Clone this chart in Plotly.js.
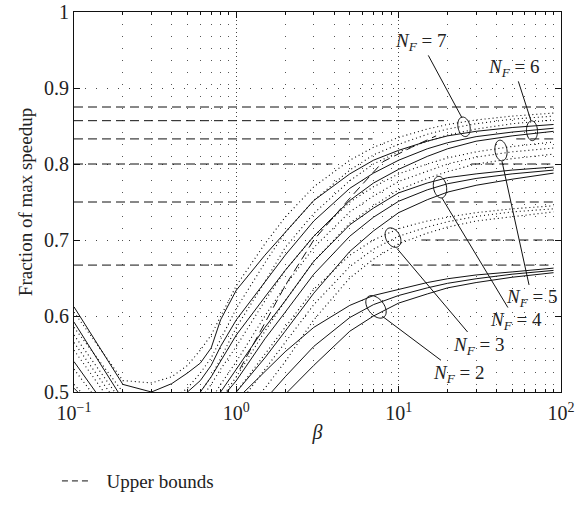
<!DOCTYPE html>
<html><head><meta charset="utf-8">
<script src="https://cdn.plot.ly/plotly-3.0.1.min.js"></script>
<style>html,body{margin:0;padding:0;background:#fff}#chart{width:578px;height:512px}</style>
</head><body><div id="chart"></div>
<script>
// ---- data ----
const beta = [0.1,0.2,0.3,0.4,0.5,0.6,0.7,0.8,1,1.5,2,3,5,7,10,15,20,30,50,90];
// N_F = 6 (solid)
const nf6_1 = [0.612,0.510,0.500,0.511,0.525,0.538,0.558,0.595,0.634,0.680,0.710,0.752,0.787,0.805,0.818,0.830,0.837,0.843,0.848,0.852];
const nf6_2 = [0.592,0.490,0.470,0.475,0.500,0.515,0.535,0.560,0.595,0.645,0.680,0.725,0.768,0.788,0.805,0.820,0.828,0.836,0.842,0.847];
const nf6_3 = [0.540,0.450,0.440,0.450,0.470,0.500,0.520,0.540,0.575,0.625,0.660,0.705,0.752,0.775,0.793,0.810,0.820,0.830,0.837,0.843];
// N_F = 4 (solid)
const nf4_1 = [0.505,0.440,0.420,0.420,0.430,0.450,0.475,0.500,0.530,0.585,0.620,0.672,0.720,0.742,0.762,0.775,0.782,0.787,0.792,0.796];
const nf4_2 = [0.470,0.420,0.400,0.400,0.410,0.430,0.455,0.490,0.515,0.570,0.605,0.655,0.705,0.730,0.751,0.766,0.774,0.781,0.787,0.792];
const nf4_3 = [0.450,0.400,0.380,0.380,0.390,0.410,0.435,0.465,0.500,0.545,0.580,0.630,0.685,0.712,0.736,0.753,0.763,0.772,0.780,0.788];
// N_F = 2 (solid)
const nf2_1 = [0.440,0.400,0.380,0.380,0.385,0.400,0.420,0.450,0.490,0.527,0.553,0.585,0.614,0.627,0.635,0.644,0.649,0.654,0.658,0.663];
const nf2_2 = [0.420,0.380,0.360,0.360,0.365,0.380,0.400,0.425,0.460,0.490,0.520,0.560,0.598,0.615,0.627,0.637,0.643,0.649,0.655,0.660];
const nf2_3 = [0.400,0.360,0.340,0.340,0.345,0.360,0.380,0.400,0.430,0.465,0.497,0.535,0.580,0.600,0.617,0.629,0.637,0.644,0.651,0.657];
// N_F = 7 (dotted)
const nf7_1 = [0.605,0.515,0.512,0.520,0.535,0.555,0.575,0.600,0.640,0.695,0.730,0.770,0.805,0.822,0.835,0.846,0.852,0.858,0.863,0.867];
const nf7_2 = [0.585,0.500,0.485,0.490,0.505,0.525,0.545,0.570,0.610,0.670,0.710,0.752,0.792,0.812,0.826,0.839,0.846,0.853,0.859,0.863];
const nf7_3 = [0.565,0.475,0.460,0.465,0.480,0.500,0.520,0.545,0.585,0.645,0.690,0.735,0.778,0.800,0.816,0.830,0.838,0.846,0.853,0.858];
// N_F = 5 (dotted)
const nf5_1 = [0.575,0.485,0.470,0.470,0.480,0.490,0.510,0.530,0.560,0.620,0.660,0.705,0.750,0.770,0.787,0.800,0.808,0.816,0.823,0.829];
const nf5_2 = [0.555,0.465,0.450,0.450,0.460,0.470,0.490,0.510,0.540,0.600,0.640,0.690,0.737,0.758,0.777,0.791,0.800,0.809,0.816,0.821];
const nf5_3 = [0.530,0.445,0.430,0.430,0.440,0.450,0.470,0.490,0.520,0.580,0.620,0.672,0.722,0.745,0.766,0.781,0.790,0.800,0.807,0.813];
// N_F = 3 (dotted)
const nf3_1 = [0.510,0.440,0.420,0.420,0.425,0.435,0.450,0.470,0.500,0.550,0.585,0.635,0.680,0.700,0.715,0.725,0.730,0.736,0.741,0.745];
const nf3_2 = [0.490,0.420,0.400,0.400,0.405,0.415,0.430,0.450,0.480,0.530,0.565,0.615,0.665,0.688,0.705,0.717,0.724,0.731,0.737,0.741];
const nf3_3 = [0.470,0.400,0.380,0.380,0.385,0.395,0.410,0.430,0.465,0.505,0.540,0.595,0.650,0.675,0.695,0.709,0.717,0.725,0.731,0.737];
// Upper bounds (horizontal visible pieces)
const boundLevel = [0.875,0.857,0.833,0.833,0.800,0.800,0.750,0.750,0.700,0.667,0.667];
const boundFrom  = [0.1,  0.1,  0.1,  53,   0.1,  28,   0.1,  16,   13.8, 0.1,  6.8];
const boundTo    = [90,   19,   6.9,  90,   3.9,  90,   2.2,  90,   90,   0.95, 90];
// Upper bound (rising dashed piece)
const boundCurveBeta = [1.05,1.4,2,3,5,8,12,17];
const boundCurveVal  = [0.53,0.58,0.64,0.70,0.755,0.803,0.822,0.837];
// Tick labels
const xTickVals = [0.1,1,10,100];
const xTickText = ['10<sup>\u22121</sup>','10<sup>0</sup>','10<sup>1</sup>','10<sup>2</sup>'];
const xMinorVals = [0.2,0.3,0.4,0.5,0.6,0.7,0.8,0.9,2,3,4,5,6,7,8,9,20,30,40,50,60,70,80,90];
const labelNF = ['7','6','5','4','3','2'];

// ---- styling / layout ----
const FONT = 'Liberation Serif, Times New Roman, serif';
const traces = [];
const solidSets = [nf6_1,nf6_2,nf6_3,nf4_1,nf4_2,nf4_3,nf2_1,nf2_2,nf2_3];
const dotSets = [nf7_1,nf7_2,nf7_3,nf5_1,nf5_2,nf5_3,nf3_1,nf3_2,nf3_3];
dotSets.forEach(v => traces.push({x:beta,y:v,type:'scatter',mode:'lines',showlegend:false,hoverinfo:'skip',
  line:{color:'#000',width:1.1,dash:'1px,3px'}}));
solidSets.forEach(v => traces.push({x:beta,y:v,type:'scatter',mode:'lines',showlegend:false,hoverinfo:'skip',
  line:{color:'#111',width:1}}));
const bx=[], by=[];
boundLevel.forEach((l,i)=>{ bx.push(boundFrom[i],boundTo[i],null); by.push(l,l,null); });
boundCurveBeta.forEach((b,i)=>{ bx.push(b); by.push(boundCurveVal[i]); });
traces.push({x:bx,y:by,type:'scatter',mode:'lines',name:'Upper bounds',showlegend:false,connectgaps:false,hoverinfo:'skip',
  line:{color:'#111',width:1,dash:'9px,5px'}});
traces.push({x:[null],y:[null],type:'scatter',mode:'lines',name:'\u2002Upper bounds',hoverinfo:'skip',
  line:{color:'#111',width:1,dash:'6px,4px'}});

const PL=74, PT=12, PW=487, PH=384;
const pxp = x => (x-PL)/PW, pyp = y => (PT+PH-y)/PH;
const labTX = [421,514,532,516,479,459];
const labTY = [43, 69, 300,323,348,377];
const tipX  = [462,531,502,442,397,383];
const tipY  = [119,122,163,200,251,320];
const annotations = labelNF.map((n,i)=>({
  xref:'paper',yref:'paper',x:pxp(tipX[i]),y:pyp(tipY[i]),
  axref:'pixel',ayref:'pixel',ax:labTX[i]-tipX[i],ay:labTY[i]-tipY[i],
  text:'<i>N</i><sub><i>F</i></sub> = '+n,showarrow:true,arrowhead:0,arrowwidth:1,arrowcolor:'#111',
  standoff:0,startstandoff:0,font:{family:FONT,size:19,color:'#222'}
}));
const elCX=[464,532,501,440,393,376], elCY=[128,132,152,189,240,310];
const elRX=[6,5.5,6,6.5,7,8], elRY=[10,10,10.5,11,10.5,13], elA=[-12,-3,-8,-10,-28,-38];
const shapes = elCX.map((cx,i)=>{
  const th=elA[i]*Math.PI/180; let p='';
  for(let k=0;k<=48;k++){const t=2*Math.PI*k/48; const ex=elRX[i]*Math.cos(t), ey=elRY[i]*Math.sin(t);
    const X=cx+ex*Math.cos(th)-ey*Math.sin(th), Y=elCY[i]+ex*Math.sin(th)+ey*Math.cos(th);
    p+=(k?'L':'M')+pxp(X).toFixed(5)+','+pyp(Y).toFixed(5);}
  return {type:'path',xref:'paper',yref:'paper',path:p+'Z',line:{color:'#111',width:1}};
});

const layout = {
  width:578,height:512,margin:{l:PL,r:578-PL-PW,t:PT,b:512-PT-PH},
  paper_bgcolor:'#fff',plot_bgcolor:'#fff',
  font:{family:FONT,color:'#222',size:19},
  xaxis:{type:'log',range:[-1,2],tickmode:'array',tickvals:xTickVals,ticktext:xTickText,
    ticks:'inside',ticklen:6,tickcolor:'#111',showline:true,linecolor:'#111',linewidth:1,mirror:'ticks',
    showgrid:true,gridcolor:'#444',griddash:'1px,3px',gridwidth:1,zeroline:false,
    tickfont:{family:FONT,size:20},ticklabelstandoff:3,
    minor:{tickmode:'array',tickvals:xMinorVals,ticks:'inside',ticklen:3,tickcolor:'#111',showgrid:true,gridcolor:'#555',griddash:'1px,11px'},
    title:{text:'<i>β</i>',font:{family:FONT,size:20},standoff:1},automargin:false},
  yaxis:{range:[0.5,1],tick0:0.5,dtick:0.1,ticks:'inside',ticklen:6,tickcolor:'#111',showline:true,linecolor:'#111',linewidth:1,
    mirror:'ticks',showgrid:true,gridcolor:'#444',griddash:'1px,10px',zeroline:false,
    tickfont:{family:FONT,size:20},title:{text:'Fraction of max speedup',font:{family:FONT,size:19},standoff:6},automargin:false},
  showlegend:true,
  legend:{orientation:'h',x:-0.035,xanchor:'left',y:pyp(486),yanchor:'middle',font:{family:FONT,size:19},bgcolor:'rgba(0,0,0,0)'},
  annotations:annotations,shapes:shapes
};
Plotly.newPlot('chart',traces,layout,{staticPlot:true});
</script></body></html>
